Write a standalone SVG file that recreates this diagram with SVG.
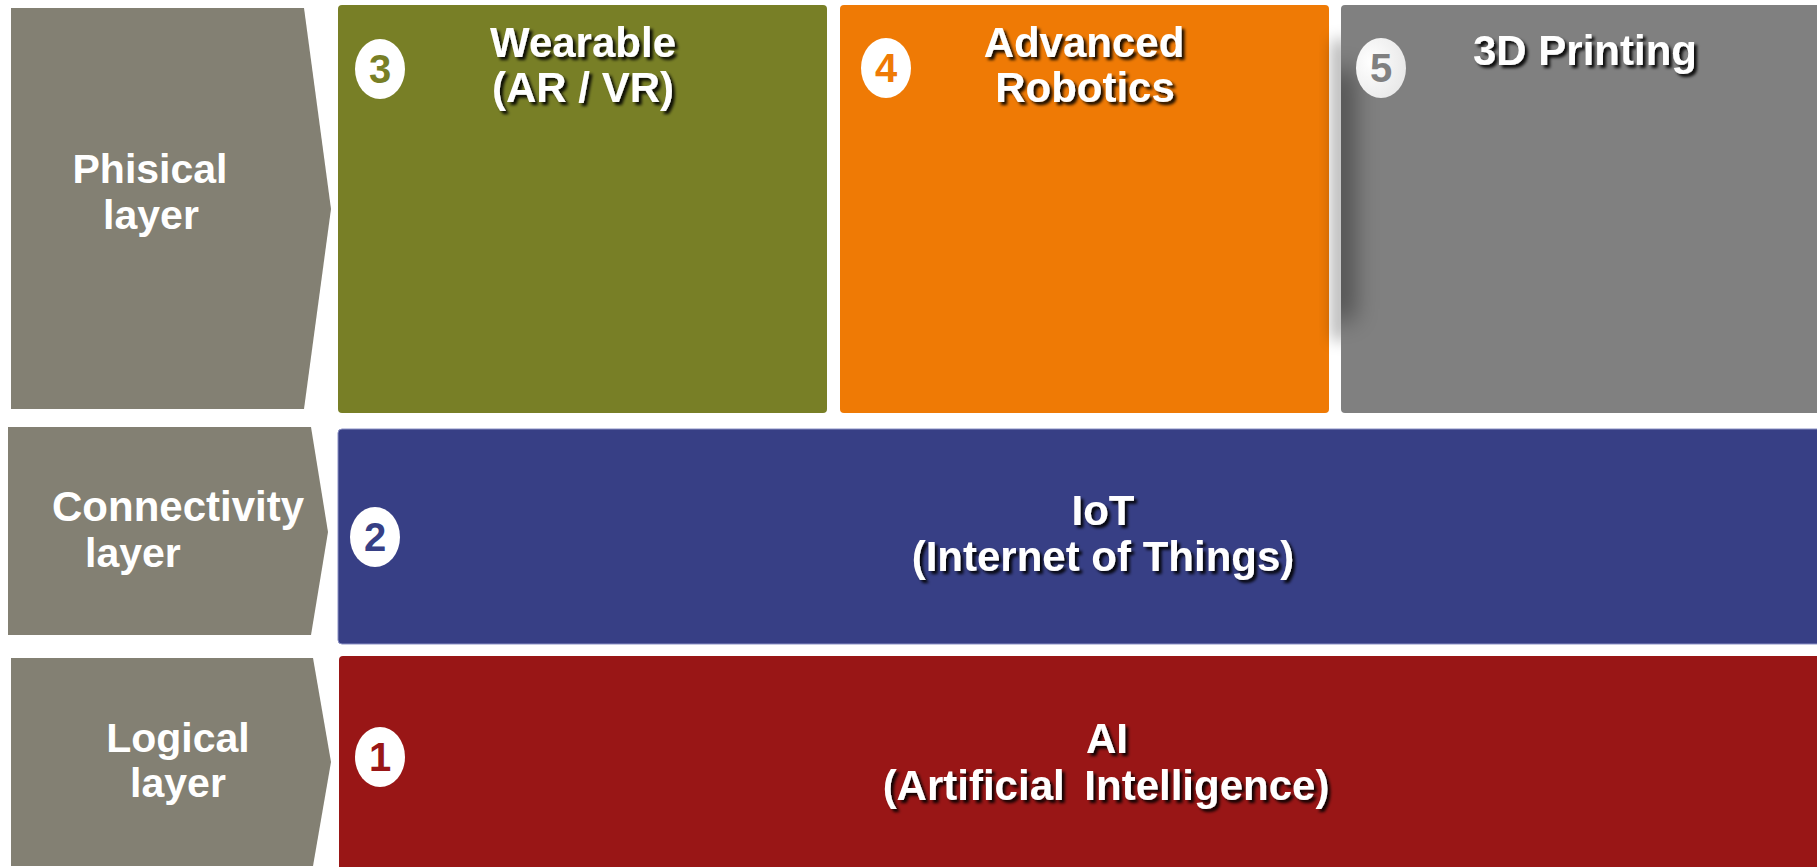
<svg xmlns="http://www.w3.org/2000/svg" width="1817" height="867" viewBox="0 0 1817 867">
  <defs>
    <style>
      .layer { fill: #838073; }
      .lbl { font-family: "Liberation Sans", Arial, sans-serif; font-weight: bold; font-size: 41px; fill: #ffffff; }
      .ttl { font-family: "Liberation Sans", Arial, sans-serif; font-weight: bold; font-size: 42px; fill: #ffffff; text-anchor: middle; filter: url(#tshadow); }
      .num { font-family: "Liberation Sans", Arial, sans-serif; font-weight: bold; font-size: 40px; text-anchor: middle; }
      .badge { fill: #ffffff; }
    </style>
    <filter id="tshadow" x="-10%" y="-30%" width="130%" height="170%">
      <feDropShadow dx="3" dy="3" stdDeviation="1.6" flood-color="#000000" flood-opacity="0.9"/>
    </filter>
    <filter id="blur8" x="-100%" y="-50%" width="300%" height="200%">
      <feGaussianBlur stdDeviation="8"/>
    </filter>
    <filter id="blur12" x="-100%" y="-50%" width="300%" height="200%">
      <feGaussianBlur stdDeviation="12"/>
    </filter>
    <clipPath id="grayClip">
      <rect x="1341" y="5" width="480" height="408" rx="4"/>
    </clipPath>
    <radialGradient id="badge5" cx="0.3" cy="0.4" r="0.8">
      <stop offset="0" stop-color="#ffffff"/>
      <stop offset="1" stop-color="#e6e6e6"/>
    </radialGradient>
  </defs>

  <rect width="1817" height="867" fill="#ffffff"/>

  <g id="layer-physical">
    <polygon class="layer" points="11,8 304,8 331,209 304,409 11,409"/>
    <text class="lbl" text-anchor="middle" x="150" y="183">Phisical</text>
    <text class="lbl" text-anchor="middle" x="151" y="229">layer</text>
  </g>
  <g id="layer-connectivity">
    <polygon class="layer" points="8,427 311,427 328,532 311,635 8,635"/>
    <text class="lbl" x="52" y="521" style="font-size:42px">Connectivity</text>
    <text class="lbl" x="85" y="567">layer</text>
  </g>
  <g id="layer-logical">
    <polygon class="layer" points="11,658 313,658 331,762 313,866 11,866"/>
    <text class="lbl" text-anchor="middle" x="178" y="752">Logical</text>
    <text class="lbl" text-anchor="middle" x="178" y="797">layer</text>
  </g>

  <g id="wearable">
    <rect x="338" y="5" width="489" height="408" rx="4" fill="#787F26"/>
    <ellipse class="badge" cx="380" cy="69" rx="25" ry="30"/>
    <text class="num" x="380" y="83" fill="#787F26">3</text>
    <text class="ttl" x="583" y="57">Wearable</text>
    <text class="ttl" x="583" y="102">(AR / VR)</text>
  </g>

  <g id="robotics">
    <rect x="840" y="5" width="489" height="408" rx="4" fill="#EF7A05"/>
    <ellipse class="badge" cx="886" cy="68" rx="25" ry="30"/>
    <text class="num" x="886" y="82" fill="#EF7A05">4</text>
    <text class="ttl" x="1084" y="57">Advanced</text>
    <text class="ttl" x="1085" y="102">Robotics</text>
  </g>

  <g id="printing">
    <rect x="1333" y="40" width="14" height="300" fill="#000000" opacity="0.35" filter="url(#blur8)"/>
    <rect x="1341" y="5" width="480" height="408" rx="4" fill="#808080"/>
    <g clip-path="url(#grayClip)">
      <rect x="1328" y="70" width="26" height="250" fill="#000000" opacity="0.4" filter="url(#blur12)"/>
    </g>
    <ellipse cx="1381" cy="68" rx="25" ry="30" fill="url(#badge5)"/>
    <text class="num" x="1381" y="82" fill="#808080">5</text>
    <text class="ttl" x="1585" y="65">3D Printing</text>
  </g>

  <g id="iot">
    <rect x="338" y="429" width="1490" height="215" rx="4" fill="#373F85" stroke="#8a90c4" stroke-width="1"/>
    <ellipse class="badge" cx="375" cy="537" rx="25" ry="30"/>
    <text class="num" x="375" y="551" fill="#373F85">2</text>
    <text class="ttl" x="1103" y="525">IoT</text>
    <text class="ttl" x="1103" y="571">(Internet of Things)</text>
  </g>

  <g id="ai">
    <rect x="339" y="656" width="1490" height="220" rx="4" fill="#991616"/>
    <ellipse class="badge" cx="380" cy="757" rx="25" ry="30"/>
    <text class="num" x="380" y="771" fill="#991616">1</text>
    <text class="ttl" x="1107" y="753">AI</text>
    <text class="ttl" x="1106" y="800" word-spacing="8">(Artificial Intelligence)</text>
  </g>

  <g id="connectors"></g>
</svg>
